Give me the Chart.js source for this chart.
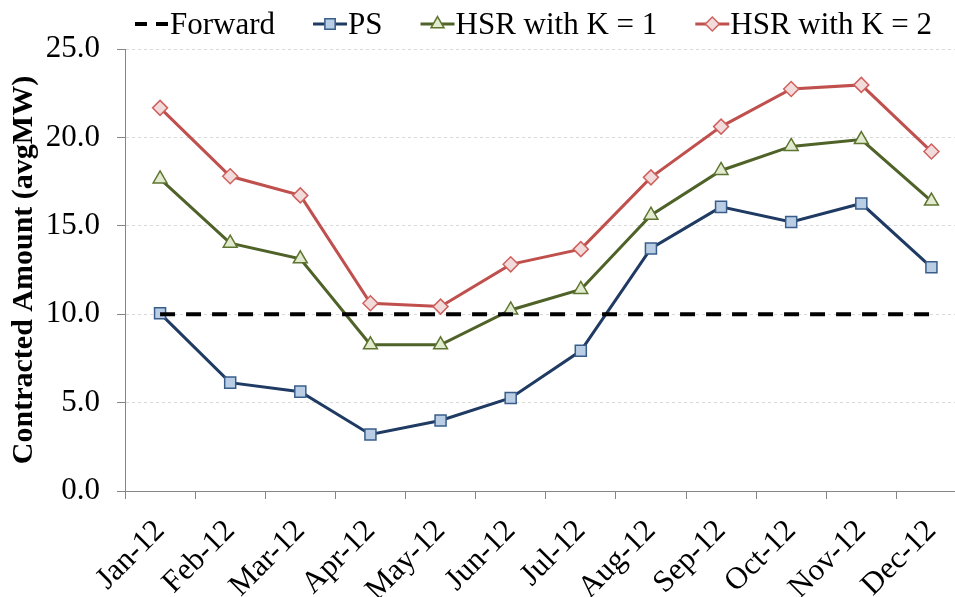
<!DOCTYPE html>
<html>
<head>
<meta charset="utf-8">
<title>Contracted Amount</title>
<script src="https://cdn.jsdelivr.net/npm/chart.js@4.4.0/dist/chart.umd.min.js"></script>
<style>
  html, body { margin: 0; padding: 0; background: #fff; overflow: hidden; }
  canvas { display: block; }
</style>
</head>
<body>
<canvas id="chart" width="976" height="597"></canvas>
<script>
// data
const months = ['Jan-12', 'Feb-12', 'Mar-12', 'Apr-12', 'May-12', 'Jun-12',
                'Jul-12', 'Aug-12', 'Sep-12', 'Oct-12', 'Nov-12', 'Dec-12'];
const forward = [10, 10, 10, 10, 10, 10, 10, 10, 10, 10, 10, 10];
const ps      = [10.05, 6.13, 5.62, 3.20, 3.99, 5.26, 7.93, 13.72, 16.07, 15.22, 16.26, 12.65];
const hsrK1   = [17.65, 14.02, 13.13, 8.27, 8.27, 10.24, 11.40, 15.60, 18.13, 19.49, 19.88, 16.40];
const hsrK2   = [21.67, 17.80, 16.72, 10.62, 10.43, 12.82, 13.68, 17.74, 20.61, 22.74, 22.97, 19.20];
const yTicks  = [0, 5, 10, 15, 20, 25];

const serif = '"Liberation Serif", "Times New Roman", serif';

// legend drawn as line + marker, like the spreadsheet one
const lineLegend = {
  id: 'lineLegend',
  afterDraw(chart) {
    const ctx = chart.ctx;
    const y = 24;
    let x = 135;
    ctx.save();
    ctx.font = '31px ' + serif;
    ctx.textBaseline = 'middle';
    ctx.textAlign = 'left';
    chart.data.datasets.forEach(ds => {
      ctx.strokeStyle = ds.borderColor;
      ctx.lineWidth = ds.legendWidth || ds.borderWidth;
      ctx.setLineDash(ds.legendDash || []);
      ctx.beginPath();
      ctx.moveTo(x, y);
      ctx.lineTo(x + 34, y);
      ctx.stroke();
      ctx.setLineDash([]);
      if (ds.pointRadius > 0) {
        ctx.fillStyle = ds.pointBackgroundColor;
        ctx.strokeStyle = ds.pointBorderColor;
        ctx.lineWidth = ds.pointBorderWidth;
        Chart.helpers.drawPoint(ctx, {
          pointStyle: ds.pointStyle,
          radius: ds.pointRadius - 0.5,
          borderWidth: ds.pointBorderWidth,
          rotation: 0
        }, x + 17, y);
      }
      ctx.fillStyle = '#000';
      ctx.fillText(ds.label, x + 35, y + 2);
      x += 35 + ctx.measureText(ds.label).width + 38;
    });
    ctx.restore();
  }
};

new Chart(document.getElementById('chart'), {
  type: 'line',
  data: {
    labels: months,
    datasets: [
      {
        label: 'Forward',
        data: forward,
        borderColor: '#000',
        borderWidth: 4,
        borderDash: [15, 11],
        legendDash: [12, 9],
        legendWidth: 4,
        pointRadius: 0,
        order: 0
      },
      {
        label: 'PS',
        data: ps,
        borderColor: '#1F3B63',
        borderWidth: 3,
        pointStyle: 'rect',
        pointRadius: 7.8,
        pointBackgroundColor: '#B9CDE5',
        pointBorderColor: '#385D8A',
        pointBorderWidth: 1.5,
        order: 1
      },
      {
        label: 'HSR with K = 1',
        data: hsrK1,
        borderColor: '#4F6228',
        borderWidth: 3,
        pointStyle: 'triangle',
        pointRadius: 8,
        pointBackgroundColor: '#E2EBCF',
        pointBorderColor: '#5E7530',
        pointBorderWidth: 1.5,
        order: 2
      },
      {
        label: 'HSR with K = 2',
        data: hsrK2,
        borderColor: '#C0504D',
        borderWidth: 3,
        pointStyle: 'rectRot',
        pointRadius: 7.5,
        pointBackgroundColor: '#F2DCDB',
        pointBorderColor: '#D0605D',
        pointBorderWidth: 1.5,
        order: 3
      }
    ]
  },
  options: {
    responsive: false,
    animation: false,
    layout: { padding: { top: 49, right: 5, left: 0, bottom: 0 } },
    elements: { line: { tension: 0 } },
    plugins: {
      legend: { display: false },
      tooltip: { enabled: false }
    },
    scales: {
      x: {
        offset: true,
        grid: {
          offset: true,
          drawOnChartArea: false,
          drawTicks: true,
          tickLength: 8,
          tickColor: '#868686',
          tickWidth: 1
        },
        border: { color: '#868686', width: 1 },
        ticks: {
          color: '#000',
          font: { family: serif, size: 31 },
          minRotation: 45,
          maxRotation: 45,
          autoSkip: false,
          padding: 14
        },
        afterFit(scale) {
          scale.height = 106;
          scale.paddingLeft = 0;
          scale.paddingRight = 0;
        }
      },
      y: {
        min: 0,
        max: 25,
        afterBuildTicks(scale) { scale.ticks = yTicks.map(v => ({ value: v })); },
        grid: {
          color: '#D9D9D9',
          lineWidth: 1,
          tickColor: '#868686',
          tickLength: 8,
          tickBorderDash: [],
          drawTicks: true
        },
        border: { color: '#868686', width: 1, dash: [3, 3] },
        ticks: {
          color: '#000',
          font: { family: serif, size: 31 },
          padding: 17,
          callback: v => v.toFixed(1)
        },
        title: {
          display: true,
          text: 'Contracted Amount (avgMW)',
          color: '#000',
          font: { family: serif, size: 30, weight: 'bold' },
          padding: { top: 6, bottom: 0 }
        },
        afterFit(scale) { scale.width = 125; }
      }
    }
  },
  plugins: [lineLegend]
});
</script>
</body>
</html>
